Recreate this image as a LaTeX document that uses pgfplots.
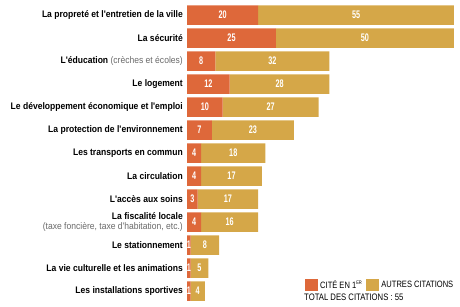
\documentclass[border=0pt]{standalone}
\usepackage{fontspec}
\setmainfont[FakeStretch=0.82]{Liberation Sans}
\newfontfamily\labfont[FakeStretch=0.9]{Liberation Sans}
\newfontfamily\numfont[FakeStretch=0.66]{Liberation Sans}
\usepackage{pgfplots}
\usepackage{pgfplotstable}
\pgfplotsset{compat=1.18}
\definecolor{orng}{RGB}{222,104,58}
\definecolor{gld}{RGB}{213,167,72}
\definecolor{lgray}{RGB}{105,105,105}
\pgfplotstableread{
y first other
0 20 55
1 25 50
2 8 32
3 12 28
4 10 27
5 7 23
6 4 18
7 4 17
8 3 17
9 4 16
10 1 8
11 1 5
12 1 4
}\data
\begin{document}
\begin{tikzpicture}
\pgfplotsset{common/.style={at={(187pt,-3.5pt)}, anchor=north west, scale only axis,
  width=267pt, height=299pt, xmin=0, xmax=75, ymin=-0.5, ymax=12.5, y dir=reverse,
  axis line style={draw=none}, tick style={draw=none}, xtick=\empty, clip=false}}
\begin{axis}[common, xbar stacked, bar width=19.5pt,
  ytick={0,...,12},
  yticklabels={
    {\textbf{La propreté et l'entretien de la ville}},
    {\textbf{La sécurité}},
    {\textbf{L'éducation} {\color{lgray}(crèches et écoles)}},
    {\textbf{Le logement}},
    {\textbf{Le développement économique et l'emploi}},
    {\textbf{La protection de l'environnement}},
    {\textbf{Les transports en commun}},
    {\textbf{La circulation}},
    {\textbf{L'accès aux soins}},
    {\textbf{La fiscalité locale}\\{\color{lgray}(taxe foncière, taxe d'habitation, etc.)}},
    {\textbf{Le stationnement}},
    {\textbf{La vie culturelle et les animations}},
    {\textbf{Les installations sportives}}},
  yticklabel style={align=right, font=\labfont\fontsize{9.5}{10.5}\selectfont, inner sep=0pt, xshift=-4pt},
  legend columns=2,
  legend style={draw=none, fill=none, at={(0.442,0.082)}, anchor=north west, inner sep=0pt,
    font=\fontsize{9.2}{10}\selectfont, /tikz/every even column/.append style={column sep=2pt}},
  legend cell align=left,
  legend image code/.code={\fill[#1] (0pt,-6pt) rectangle (13pt,6pt);},
]
\addplot[fill=orng, draw=none] table[x=first, y=y] {\data};
\addlegendentry{CITÉ EN 1\textsuperscript{\fontsize{5}{5}\selectfont ER}}
\addplot[fill=gld, draw=none] table[x=other, y=y] {\data};
\addlegendentry{AUTRES CITATIONS}
\end{axis}
\begin{axis}[common, ytick=\empty,
  nodes near coords, nodes near coords align=center,
  every node near coord/.append style={text=white, font=\numfont\bfseries\fontsize{11}{10}\selectfont, anchor=center, inner sep=0pt}]
\addplot[only marks, mark=none, point meta=explicit symbolic]
  table[x expr=\thisrow{first}/2, y=y, meta=first] {\data};
\addplot[only marks, mark=none, point meta=explicit symbolic]
  table[x expr=\thisrow{first}+\thisrow{other}/2, y=y, meta=other] {\data};
\end{axis}
\node[anchor=west, inner sep=0pt, font=\fontsize{9.4}{10}\selectfont] at (304pt,-297pt) {TOTAL DES CITATIONS : 55};
\pgfresetboundingbox
\path[use as bounding box] (0pt,0pt) rectangle (460pt,-306pt);
\end{tikzpicture}
\end{document}
